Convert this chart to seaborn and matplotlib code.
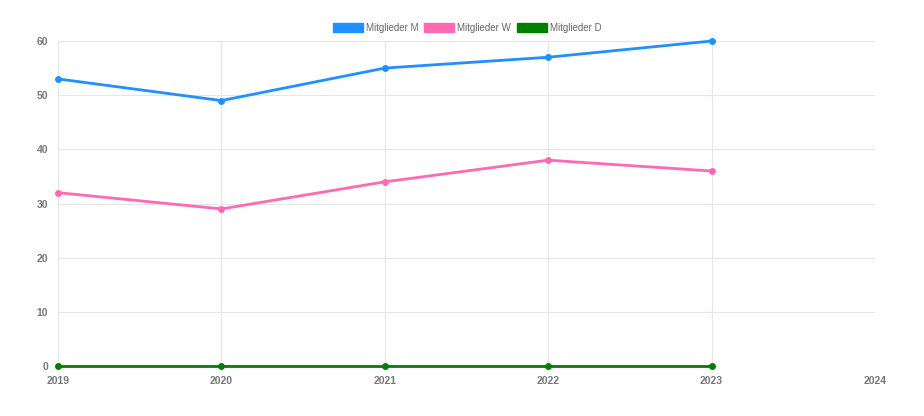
import matplotlib
matplotlib.use("Agg")
import matplotlib.pyplot as plt
import seaborn as sns
import pandas as pd
from matplotlib.patches import Patch

years = [2019, 2020, 2021, 2022, 2023]
mitglieder_m = [53, 49, 55, 57, 60]
mitglieder_w = [32, 29, 34, 38, 36]
mitglieder_d = [0, 0, 0, 0, 0]
series_names = ["Mitglieder M", "Mitglieder W", "Mitglieder D"]
colors = ["#1E90FF", "#FF69B4", "#008000"]

df = pd.DataFrame({
    "Jahr": years * 3,
    "Wert": mitglieder_m + mitglieder_w + mitglieder_d,
    "Serie": [series_names[0]] * 5 + [series_names[1]] * 5 + [series_names[2]] * 5,
})

sns.set_theme(style="white")
plt.rcParams["font.family"] = ["Liberation Sans", "DejaVu Sans"]

fig = plt.figure(figsize=(9.24, 4.16), dpi=100)
ax = fig.add_axes([58 / 924, 1 - 366 / 416, (875 - 58) / 924, (366 - 41) / 416])

sns.lineplot(data=df, x="Jahr", y="Wert", hue="Serie", palette=colors,
             hue_order=series_names, marker="o", markersize=5, markeredgewidth=0,
             linewidth=2.0, ax=ax, legend=False, clip_on=False, zorder=3)

ax.set_xlim(2019, 2024)
ax.set_ylim(0, 60)
ax.set_xticks([2019, 2020, 2021, 2022, 2023, 2024])
ax.set_yticks(range(0, 61, 10))
ax.grid(True, color="#e6e6e6", linewidth=0.8)
for s in ax.spines.values():
    s.set_visible(False)
ax.tick_params(axis="both", length=5, color="#e6e6e6", labelsize=7.5,
               labelcolor="#777777", pad=2)
for lbl in ax.get_xticklabels() + ax.get_yticklabels():
    lbl.set_fontweight("bold")
ax.set_xlabel("")
ax.set_ylabel("")

handles = [Patch(facecolor=c, edgecolor=c, label=n) for n, c in zip(series_names, colors)]
leg = fig.legend(handles=handles, loc="center", bbox_to_anchor=(467 / 924, 1 - 28 / 416),
                 ncol=3, frameon=False, fontsize=7, handlelength=3.1, handleheight=1.0,
                 handletextpad=0.3, columnspacing=0.6, labelcolor="#666666")

fig.savefig("out.png", dpi=100)
